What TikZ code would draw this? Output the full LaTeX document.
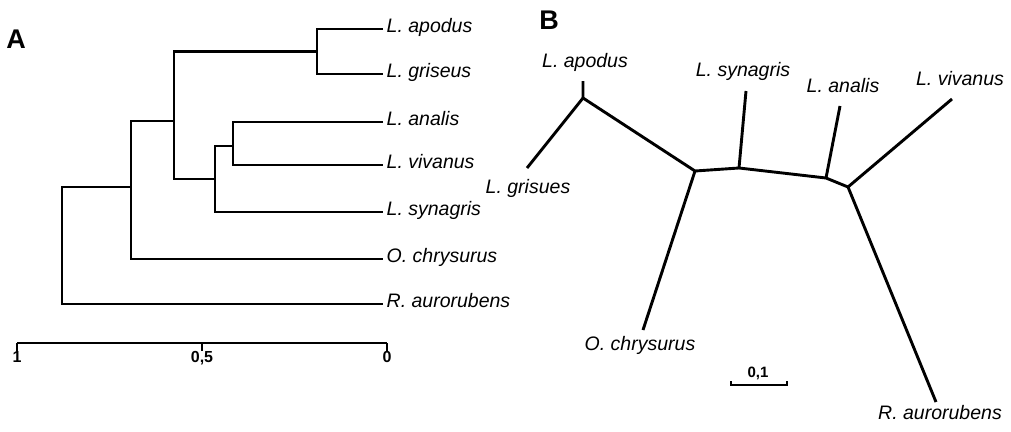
\documentclass[tikz,border=0pt]{standalone}
\usepackage{fontspec}
\setmainfont{Liberation Sans}
\begin{document}
\begin{tikzpicture}[x=1pt,y=-1pt,
  tree/.style={line width=2.9pt},
  scalebar/.style={line width=2.4pt},
  sp/.style={font=\fontsize{19.5}{22}\selectfont\itshape, inner sep=0pt, text height=0.72em, text depth=0pt},
  spw/.style={sp, anchor=west, inner xsep=3.5pt},
  panel/.style={font=\fontsize{27}{30}\selectfont\bfseries, inner sep=0pt},
  ticklab/.style={font=\fontsize{16}{18}\selectfont\bfseries, inner sep=0pt, anchor=north}]
\useasboundingbox (0,0) rectangle (1011,431);

% ---------------- Panel A ----------------
\node[panel] (A) at (16,39) {A};
\node[spw] (aApo) at (383,29)  {L. apodus};
\node[spw] (aGri) at (383,74)  {L. griseus};
\node[spw] (aAna) at (383,122) {L. analis};
\node[spw] (aViv) at (383,165) {L. vivanus};
\node[spw] (aSyn) at (383,212) {L. synagris};
\node[spw] (aChr) at (383,259) {O. chrysurus};
\node[spw] (aAur) at (383,304) {R. aurorubens};

\coordinate (n1) at (317,51.5);
\coordinate (n2) at (233,146);
\coordinate (n3) at (215,179);
\coordinate (n4) at (174,121);
\coordinate (n5) at (131,187);
\coordinate (r)  at (62,245);

\draw[tree] (aApo.west) -| (n1) |- (aGri.west);
\draw[tree] (aAna.west) -| (n2) |- (aViv.west);
\draw[tree] (n2) -| (n3) |- (aSyn.west);
\draw[tree] (n1) -| (n4) |- (n3);
\draw[tree] (n4) -| (n5) |- (aChr.west);
\draw[tree] (n5) -| (r) |- (aAur.west);

% scale A
\coordinate (s1)  at (17,343);
\coordinate (s05) at (202,343);
\coordinate (s0)  at (387,343);
\node[ticklab] (k1)  at (17,351)  {1};
\node[ticklab] (k05) at (202,351) {0,5};
\node[ticklab] (k0)  at (387,351) {0};
\draw[scalebar] (s1) -- (s0);
\draw[scalebar] (s1) -- (k1.north);
\draw[scalebar] (s05) -- (k05.north);
\draw[scalebar] (s0) -- (k0.north);

% ---------------- Panel B ----------------
\node[panel] (B) at (549,20) {B};
\node[sp] (bApoL) at (585,64)  {L. apodus};
\node[sp] (bGriL) at (528,190) {L. grisues};
\node[sp] (bSynL) at (743,73)  {L. synagris};
\node[sp] (bAnaL) at (843,89)  {L. analis};
\node[sp] (bVivL) at (960,82)  {L. vivanus};
\node[sp] (bChrL) at (640,347) {O. chrysurus};
\node[sp] (bAurL) at (940,416) {R. aurorubens};

\coordinate (m1) at (583,98);
\coordinate (m2) at (695,171);
\coordinate (ms) at (739,168);
\coordinate (ma) at (826,178);
\coordinate (m3) at (848,187);

\coordinate (bApo) at (583,81);
\coordinate (bGri) at (527,168);
\coordinate (bSyn) at (746,91);
\coordinate (bAna) at (840,106);
\coordinate (bViv) at (952,99);
\coordinate (bChr) at (643,330);
\coordinate (bAur) at (936,402);

\draw[tree, line join=round] (bApo) -- (m1) -- (m2) -- (ms) -- (ma) -- (m3) -- (bAur);
\draw[tree] (m1) -- (bGri);
\draw[tree] (m2) -- (bChr);
\draw[tree] (ms) -- (bSyn);
\draw[tree] (ma) -- (bAna);
\draw[tree] (m3) -- (bViv);

% scale B
\coordinate (q1) at (731,381);
\coordinate (q2) at (731,385);
\coordinate (q3) at (787,385);
\coordinate (q4) at (787,381);
\node[font=\fontsize{15}{17}\selectfont\bfseries, inner sep=0pt] (q) at (758,373) {0,1};
\draw[scalebar] (q1) -- (q2) -- (q3) -- (q4);
\end{tikzpicture}
\end{document}
